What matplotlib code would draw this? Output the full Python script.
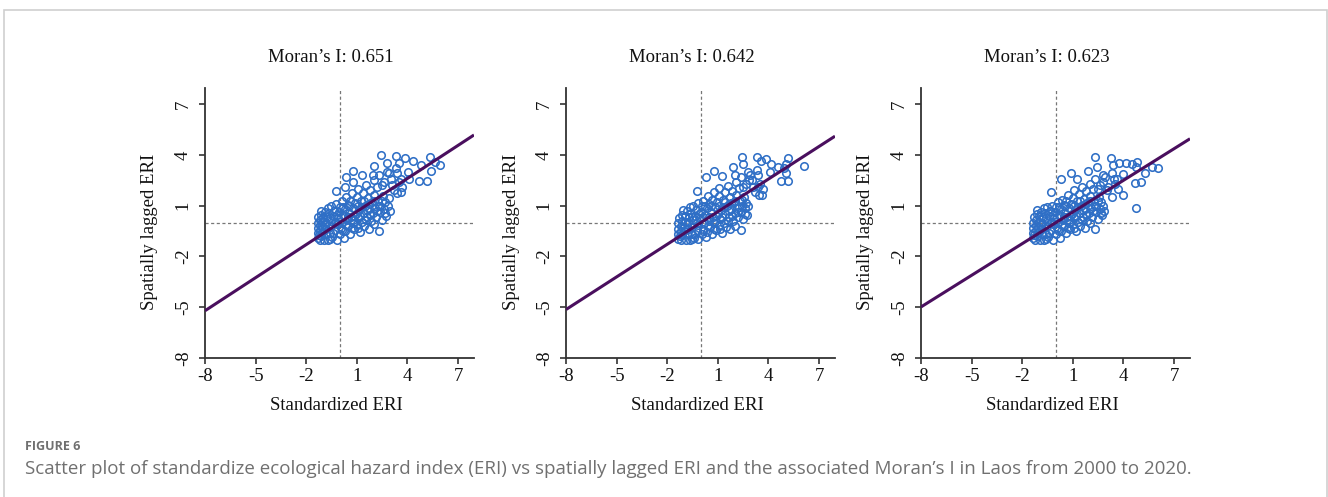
import numpy as np
import matplotlib
matplotlib.use("Agg")
import matplotlib.pyplot as plt
from matplotlib.patches import Rectangle

# ---------------- data ----------------
titles = ["Moran\u2019s I: 0.651", "Moran\u2019s I: 0.642", "Moran\u2019s I: 0.623"]
morans_i = [0.651, 0.642, 0.623]
ticks = [-8, -5, -2, 1, 4, 7]
tick_labels = ["-8", "-5", "-2", "1", "4", "7"]
x_label = "Standardized ERI"
y_label = "Spatially lagged ERI"
fig_label = "FIGURE 6"
caption = ("Scatter plot of standardize ecological hazard index (ERI) vs spatially lagged ERI "
           "and the associated Moran\u2019s I in Laos from 2000 to 2020.")

points_2000 = [
    (-1.3, -0.9), (-1.3, -0.6), (-1.3, -0.3), (-1.3, 0.0), (-1.3, 0.3), (-1.25, -0.75), (-1.2, -1.0),
    (-1.2, -0.45), (-1.2, -0.15), (-1.2, 0.15), (-1.15, 0.45), (-1.1, -0.8), (-1.05, -0.55), (-1.05, -0.2),
    (-1.0, 0.1), (-1.0, 0.35), (-0.95, -1.0), (-0.9, 0.6), (-0.85, -0.7), (-0.8, -0.35), (-0.8, 0.0),
    (-0.75, 0.3), (-0.7, 0.85), (-0.7, -1.05), (-0.65, 0.55), (-0.6, -0.6), (-0.55, -0.2), (-0.5, 0.1),
    (-0.5, 0.95), (-0.45, -0.85), (-0.4, 0.4), (-0.35, 0.7), (-0.3, -0.45), (-0.25, 1.1), (-0.2, -0.1),
    (-0.2, -1.0), (-0.1, 0.25), (-0.05, 0.6), (0.0, -0.7), (0.0, 0.9), (0.05, -0.3), (0.1, 1.25),
    (0.15, 0.0), (0.2, 0.45), (0.25, -0.9), (0.3, 0.8), (0.3, -0.5), (0.35, 1.5), (0.4, 0.15),
    (0.45, 1.05), (0.5, -0.2), (0.55, 0.55), (0.6, -0.65), (0.6, 1.3), (0.65, 0.3), (0.7, 1.75),
    (0.75, 0.0), (0.8, 0.85), (0.85, -0.4), (0.9, 1.15), (0.95, 0.5), (1.0, 1.5), (1.0, -0.1),
    (1.05, 2.0), (1.1, 0.25), (1.15, 0.75), (1.2, -0.55), (1.25, 1.3), (1.3, 0.05), (1.35, 1.75),
    (1.4, 0.55), (1.45, -0.2), (1.5, 1.0), (1.55, 2.2), (1.6, 0.3), (1.65, 1.45), (1.7, -0.35),
    (1.75, 0.8), (1.8, 1.9), (1.85, 0.1), (1.9, 1.2), (1.95, 0.55), (2.0, -0.1), (2.05, 1.6),
    (2.1, 0.85), (2.15, 0.3), (2.2, 2.1), (2.25, 1.3), (2.3, -0.5), (2.35, 0.6), (2.4, 1.0),
    (2.5, 0.15), (2.55, 1.55), (2.6, 0.8), (2.7, 1.2), (2.75, 0.4), (2.85, 0.95), (2.9, 1.45),
    (2.95, 0.7), (-1.1, 0.7), (-0.9, -0.15), (-0.6, 0.25), (-0.4, -0.6), (-0.15, 0.45), (0.1, -0.45),
    (0.2, 0.9), (0.45, 0.35), (0.7, -0.3), (0.85, 0.4), (1.05, 0.95), (1.2, 0.4), (1.4, 1.25),
    (1.6, 0.75), (1.8, 0.45), (2.0, 1.3), (2.3, 0.95), (2.5, 1.3), (-0.6, -0.95), (-0.3, 0.05),
    (0.05, 0.3), (0.35, -0.15), (0.55, 0.95), (0.8, 0.15), (1.1, -0.3), (1.3, 0.9), (1.55, 0.15),
    (1.75, 1.1), (2.2, 0.7), (2.65, 0.55),
    (2.0, 2.5), (2.3, 2.8), (2.6, 2.4), (2.9, 2.9), (3.1, 2.2), (3.3, 3.2), (3.5, 2.4), (3.2, 1.9),
    (3.7, 2.1), (3.0, 2.6), (2.5, 2.2), (3.6, 1.8),
    (2.43, 3.99), (3.32, 3.95), (3.85, 3.79), (3.52, 3.5), (4.35, 3.65), (4.8, 3.4), (5.33, 3.85),
    (5.63, 3.59), (5.93, 3.4), (5.43, 3.06), (4.7, 2.47), (5.18, 2.47), (4.05, 2.96), (2.8, 3.53),
    (2.03, 3.35), (3.4, 2.9), (3.65, 2.6), (4.09, 2.55), (3.4, 1.76), (0.79, 3.04), (1.32, 2.8),
    (0.36, 2.67), (1.94, 2.8), (2.77, 3.0), (-0.24, 1.88), (0.3, 2.1), (0.75, 2.37),
]

points_2010 = [
    (-1.33, -0.95), (-1.33, -0.65), (-1.33, -0.35), (-1.33, -0.05), (-1.3, 0.25), (-1.25, -0.8),
    (-1.2, -1.0), (-1.2, -0.5), (-1.2, -0.2), (-1.15, 0.1), (-1.1, 0.45), (-1.1, -0.75), (-1.0, -0.5),
    (-1.0, -0.25), (-0.95, 0.05), (-0.95, 0.4), (-0.9, -1.0), (-0.85, 0.7), (-0.8, -0.7), (-0.75, -0.4),
    (-0.75, 0.05), (-0.7, 0.35), (-0.65, 0.9), (-0.65, -1.0), (-0.6, 0.55), (-0.55, -0.65), (-0.5, -0.25),
    (-0.45, 0.15), (-0.45, 1.0), (-0.4, -0.9), (-0.35, 0.4), (-0.3, 0.75), (-0.25, -0.45), (-0.2, 1.15),
    (-0.15, -0.15), (-0.15, -0.95), (-0.05, 0.25), (0.0, 0.65), (0.05, -0.7), (0.05, 0.95), (0.1, -0.35),
    (0.15, 1.3), (0.2, -0.05), (0.25, 0.45), (0.3, -0.85), (0.35, 0.85), (0.35, -0.55), (0.4, 1.55),
    (0.45, 0.1), (0.5, 1.1), (0.55, -0.25), (0.6, 0.6), (0.65, -0.7), (0.65, 1.35), (0.7, 0.3),
    (0.75, 1.8), (0.8, -0.05), (0.85, 0.9), (0.9, -0.45), (0.95, 1.2), (1.0, 0.5), (1.05, 1.55),
    (1.05, -0.15), (1.1, 2.05), (1.15, 0.2), (1.2, 0.75), (1.25, -0.6), (1.3, 1.35), (1.35, 0.0),
    (1.4, 1.8), (1.45, 0.5), (1.5, -0.25), (1.55, 1.0), (1.6, 2.15), (1.65, 0.3), (1.7, 1.5),
    (1.75, -0.4), (1.8, 0.8), (1.85, 1.85), (1.9, 0.1), (1.95, 1.2), (2.0, 0.55), (2.05, -0.2),
    (2.1, 1.6), (2.15, 0.85), (2.2, 0.3), (2.25, 2.05), (2.3, 1.25), (2.35, -0.45), (2.4, 0.6),
    (2.45, 1.0), (2.5, 0.2), (2.55, 1.5), (2.6, 0.85), (2.7, 1.15), (2.75, 0.45), (2.8, 1.0),
    (-1.05, 0.75), (-0.85, -0.1), (-0.55, 0.3), (-0.35, -0.65), (-0.1, 0.5), (0.15, -0.5), (0.25, 0.95),
    (0.5, 0.35), (0.75, -0.35), (0.9, 0.4), (1.1, 1.0), (1.25, 0.35), (1.45, 1.2), (1.65, 0.7),
    (1.85, 0.4), (2.05, 1.3), (2.25, 0.9), (2.45, 1.35), (-0.55, -0.95), (-0.25, 0.0), (0.1, 0.3),
    (0.4, -0.2), (0.6, 1.0), (0.85, 0.1), (1.15, -0.35), (1.35, 0.9), (1.6, 0.1), (1.8, 1.15),
    (2.2, 0.65), (2.6, 0.5),
    (2.1, 2.4), (2.4, 2.7), (2.7, 2.3), (2.9, 2.8), (3.1, 2.1), (3.3, 3.1), (3.5, 2.3), (3.2, 1.8),
    (3.7, 2.0), (3.0, 2.5), (2.5, 2.1), (3.6, 1.6),
    (2.42, 3.89), (2.52, 3.46), (3.31, 3.85), (3.55, 3.65), (3.85, 3.73), (4.14, 3.46), (4.58, 3.3),
    (5.14, 3.79), (5.04, 3.46), (4.94, 3.2), (5.04, 2.9), (6.09, 3.34), (4.74, 2.47), (5.17, 2.47),
    (1.9, 3.26), (2.82, 3.0), (3.39, 2.8), (4.1, 3.0), (3.45, 1.62), (3.39, 2.11), (0.77, 3.06),
    (-0.26, 1.88), (0.33, 2.67), (1.27, 2.75), (2.0, 2.8), (2.85, 2.51),
]

points_2020 = [
    (-1.35, -0.9), (-1.35, -0.6), (-1.35, -0.3), (-1.35, 0.0), (-1.3, 0.3), (-1.3, -0.75), (-1.25, -1.0),
    (-1.2, -0.45), (-1.2, -0.15), (-1.2, 0.15), (-1.15, 0.5), (-1.1, -0.8), (-1.05, -0.55), (-1.05, -0.25),
    (-1.0, 0.05), (-1.0, 0.4), (-0.95, -1.0), (-0.9, 0.65), (-0.85, -0.7), (-0.8, -0.4), (-0.8, 0.0),
    (-0.75, 0.3), (-0.7, 0.85), (-0.7, -1.05), (-0.65, 0.55), (-0.6, -0.65), (-0.55, -0.2), (-0.5, 0.1),
    (-0.5, 0.9), (-0.45, -0.85), (-0.4, 0.4), (-0.35, 0.7), (-0.3, -0.45), (-0.25, 1.0), (-0.2, -0.1),
    (-0.2, -1.0), (-0.1, 0.25), (-0.05, 0.6), (0.0, -0.7), (0.0, 0.9), (0.05, -0.3), (0.1, 1.2),
    (0.15, 0.0), (0.2, 0.45), (0.25, -0.9), (0.3, 0.8), (0.3, -0.5), (0.35, 1.35), (0.4, 0.15),
    (0.45, 1.05), (0.5, -0.2), (0.55, 0.55), (0.6, -0.6), (0.6, 1.25), (0.65, 0.3), (0.7, 1.6),
    (0.75, 0.0), (0.8, 0.85), (0.85, -0.4), (0.9, 1.1), (0.95, 0.5), (1.0, 1.45), (1.0, -0.1),
    (1.05, 1.9), (1.1, 0.25), (1.15, 0.75), (1.2, -0.5), (1.25, 1.3), (1.3, 0.05), (1.35, 1.7),
    (1.4, 0.55), (1.45, -0.2), (1.5, 1.0), (1.55, 2.1), (1.6, 0.3), (1.65, 1.4), (1.7, -0.3),
    (1.75, 0.8), (1.8, 1.85), (1.85, 0.1), (1.9, 1.2), (1.95, 0.55), (2.0, -0.05), (2.05, 1.55),
    (2.1, 0.85), (2.15, 0.3), (2.2, 2.0), (2.25, 1.3), (2.3, -0.35), (2.35, 0.6), (2.4, 1.0),
    (2.5, 0.2), (2.55, 1.5), (2.6, 0.8), (2.7, 1.2), (2.75, 0.45), (2.8, 0.95), (2.85, 0.7),
    (-1.1, 0.75), (-0.9, -0.15), (-0.6, 0.25), (-0.4, -0.6), (-0.15, 0.45), (0.1, -0.45), (0.2, 0.9),
    (0.45, 0.35), (0.7, -0.3), (0.85, 0.4), (1.05, 0.95), (1.2, 0.4), (1.4, 1.25), (1.6, 0.75),
    (1.8, 0.45), (2.0, 1.3), (2.3, 0.95), (2.5, 1.3), (-0.6, -0.95), (-0.3, 0.05), (0.05, 0.3),
    (0.35, -0.15), (0.55, 0.95), (0.8, 0.15), (1.1, -0.3), (1.3, 0.9), (1.55, 0.15), (1.75, 1.1),
    (2.2, 0.7), (2.65, 0.55),
    (2.0, 2.3), (2.3, 2.6), (2.6, 2.2), (2.9, 2.7), (3.1, 2.1), (3.3, 2.9), (3.5, 2.3), (3.0, 1.9),
    (3.7, 2.0), (2.8, 2.4), (2.5, 2.0), (3.6, 2.6),
    (2.3, 3.85), (3.25, 3.79), (3.39, 3.4), (3.75, 3.5), (4.14, 3.5), (4.54, 3.46), (4.8, 3.59),
    (4.74, 3.3), (5.3, 2.9), (5.69, 3.3), (6.03, 3.2), (2.46, 3.26), (1.92, 3.04), (0.87, 2.9),
    (3.98, 2.85), (4.7, 2.35), (5.04, 2.41), (3.96, 1.62), (3.31, 1.53), (-0.32, 1.82), (0.33, 2.55),
    (1.27, 2.55), (2.79, 2.8), (3.45, 2.6), (4.74, 0.87),
]
panels = [points_2000, points_2010, points_2020]

# ---------------- figure ----------------
W, H = 1328, 497
fig = plt.figure(figsize=(W / 100, H / 100), dpi=100)
serif = ["Liberation Serif", "DejaVu Serif"]
FS = 13.5

# axes boxes in pixels: (left, right, top, bottom)
boxes = [(205, 474, 88, 358), (566, 835, 88, 358), (921, 1190, 88, 358)]

for (l, r, t, b), pts, mi, title in zip(boxes, panels, morans_i, titles):
    ax = fig.add_axes([l / W, 1 - b / H, (r - l) / W, (b - t) / H])
    xs = np.array([p[0] for p in pts])
    ys = np.array([p[1] for p in pts])
    ax.set_xlim(-8, 7.95)
    ax.set_ylim(-8, 7.95)
    ax.axhline(0, color="#777777", lw=0.9, ls=(0, (2.5, 2)), zorder=1)
    ax.axvline(0, color="#777777", lw=0.9, ls=(0, (2.5, 2)), zorder=1)
    ax.plot(xs, ys, "o", mfc="none", mec="#2f6fc6", ms=5.4, mew=1.15, zorder=2)
    lx = np.array(ax.get_xlim())
    ax.plot(lx, mi * lx, color="#4a0f5e", lw=2.2, zorder=3, solid_capstyle="butt")

    for s in ["top", "right"]:
        ax.spines[s].set_visible(False)
    for s in ["left", "bottom"]:
        ax.spines[s].set_linewidth(1.3)
        ax.spines[s].set_color("#333333")
    ax.set_xticks(ticks)
    ax.set_xticklabels(tick_labels, fontfamily=serif, fontsize=FS)
    ax.set_yticks(ticks)
    ax.set_yticklabels(tick_labels, fontfamily=serif, fontsize=FS, rotation=90, va="center")
    ax.tick_params(direction="out", length=4.5, width=1.2, color="#333333", labelcolor="#111111")
    ax.tick_params(axis="x", pad=2.5)
    ax.tick_params(axis="y", pad=5)

    cx = (l + r) / 2
    fig.text((cx - 9) / W, 1 - 57 / H, title, ha="center", va="center",
             fontfamily=serif, fontsize=FS, color="#111111")
    fig.text((cx - 3) / W, 1 - 405 / H, x_label, ha="center", va="center",
             fontfamily=serif, fontsize=FS, color="#111111")
    fig.text((l - 55) / W, 1 - 232 / H, y_label, ha="center", va="center", rotation=90,
             fontfamily=serif, fontsize=FS, color="#111111")

# outer frame
fig.add_artist(Rectangle((4 / W, -0.05), (1323) / W, (H - 10) / H + 0.05,
                         transform=fig.transFigure, facecolor="none",
                         edgecolor="#cfcfcf", lw=1.2, clip_on=False))

fig.text(25 / W, 1 - 446 / H, fig_label, ha="left", va="center",
         fontfamily=["Open Sans", "DejaVu Sans"], fontsize=9, fontweight="bold", color="#707070")
fig.text(25 / W, 1 - 469 / H, caption, ha="left", va="center",
         fontfamily=["Open Sans", "DejaVu Sans"], fontsize=13.5, color="#707070")

fig.savefig("out.png", dpi=100)
